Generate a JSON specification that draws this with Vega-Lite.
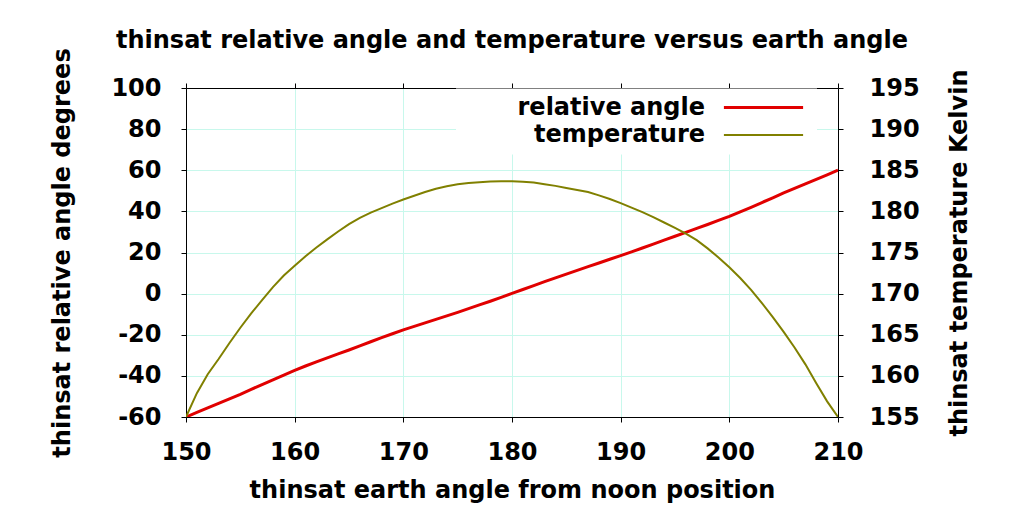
{
  "$schema": "https://vega.github.io/schema/vega-lite/v6.json",
  "width": 652,
  "height": 329,
  "autosize": {"type": "none"},
  "padding": {"left": 186, "top": 88, "right": 186, "bottom": 95},
  "background": "white",
  "config": {
    "font": "DejaVu Sans",
    "view": {"stroke": null},
    "axis": {
      "labelFont": "DejaVu Sans", "labelFontSize": 24, "labelFontWeight": "bold", "labelColor": "black",
      "titleFont": "DejaVu Sans", "titleFontSize": 24, "titleFontWeight": "bold", "titleColor": "black",
      "domainColor": "black", "domainWidth": 1, "tickColor": "black", "tickWidth": 1, "tickSize": 5,
      "gridColor": "#c8f8ec", "gridWidth": 1, "gridOpacity": 1,
      "labelFlush": false, "labelOverlap": false
    },
    "legend": {
      "orient": "none", "legendX": 270, "legendY": 0.5,
      "fillColor": "white", "padding": 7, "strokeColor": null,
      "labelFont": "DejaVu Sans", "labelFontSize": 24, "labelFontWeight": "bold", "labelColor": "black",
      "labelAlign": "right", "labelOffset": -70.5, "labelBaseline": "middle", "labelLimit": 400,
      "symbolType": "M-3.3,0L3.3,0", "symbolSize": 576, "symbolStrokeWidth": 3, "symbolOffset": 288.5,
      "rowPadding": 3.4
    }
  },
  "title": {
    "text": "thinsat relative angle and temperature versus earth angle",
    "font": "DejaVu Sans", "fontSize": 24, "fontWeight": "bold", "color": "black",
    "anchor": "middle", "offset": -5
  },
  "data": {
    "values": [
      {"earth": 150, "relative": -60.0, "temperature": 155.0},
      {"earth": 151, "relative": -57.8, "temperature": 157.9},
      {"earth": 152, "relative": -55.6, "temperature": 160.2},
      {"earth": 153, "relative": -53.4, "temperature": 162.05},
      {"earth": 154, "relative": -51.2, "temperature": 164.0},
      {"earth": 155, "relative": -49.0, "temperature": 165.85},
      {"earth": 156, "relative": -46.6, "temperature": 167.6},
      {"earth": 157, "relative": -44.2, "temperature": 169.2},
      {"earth": 158, "relative": -41.9, "temperature": 170.8},
      {"earth": 159, "relative": -39.6, "temperature": 172.2},
      {"earth": 160, "relative": -37.3, "temperature": 173.4},
      {"earth": 161, "relative": -35.2, "temperature": 174.55},
      {"earth": 162, "relative": -33.2, "temperature": 175.6},
      {"earth": 163, "relative": -31.2, "temperature": 176.6},
      {"earth": 164, "relative": -29.3, "temperature": 177.55},
      {"earth": 165, "relative": -27.4, "temperature": 178.45},
      {"earth": 166, "relative": -25.4, "temperature": 179.2},
      {"earth": 167, "relative": -23.4, "temperature": 179.85},
      {"earth": 168, "relative": -21.4, "temperature": 180.4},
      {"earth": 169, "relative": -19.5, "temperature": 180.95},
      {"earth": 170, "relative": -17.6, "temperature": 181.45},
      {"earth": 171, "relative": -15.9, "temperature": 181.9},
      {"earth": 172, "relative": -14.2, "temperature": 182.35},
      {"earth": 173, "relative": -12.5, "temperature": 182.75},
      {"earth": 174, "relative": -10.8, "temperature": 183.05},
      {"earth": 175, "relative": -9.1, "temperature": 183.3},
      {"earth": 176, "relative": -7.3, "temperature": 183.45},
      {"earth": 177, "relative": -5.5, "temperature": 183.55},
      {"earth": 178, "relative": -3.7, "temperature": 183.62},
      {"earth": 179, "relative": -1.8, "temperature": 183.65},
      {"earth": 180, "relative": 0.1, "temperature": 183.65},
      {"earth": 181, "relative": 2.0, "temperature": 183.6},
      {"earth": 182, "relative": 3.9, "temperature": 183.5},
      {"earth": 183, "relative": 5.8, "temperature": 183.3},
      {"earth": 184, "relative": 7.7, "temperature": 183.1},
      {"earth": 185, "relative": 9.5, "temperature": 182.85},
      {"earth": 186, "relative": 11.3, "temperature": 182.6},
      {"earth": 187, "relative": 13.1, "temperature": 182.35},
      {"earth": 188, "relative": 14.9, "temperature": 181.95},
      {"earth": 189, "relative": 16.7, "temperature": 181.5},
      {"earth": 190, "relative": 18.5, "temperature": 181.0},
      {"earth": 191, "relative": 20.3, "temperature": 180.45},
      {"earth": 192, "relative": 22.2, "temperature": 179.9},
      {"earth": 193, "relative": 24.1, "temperature": 179.3},
      {"earth": 194, "relative": 26.0, "temperature": 178.65},
      {"earth": 195, "relative": 27.9, "temperature": 178.0},
      {"earth": 196, "relative": 29.8, "temperature": 177.3},
      {"earth": 197, "relative": 31.7, "temperature": 176.5},
      {"earth": 198, "relative": 33.6, "temperature": 175.5},
      {"earth": 199, "relative": 35.6, "temperature": 174.4},
      {"earth": 200, "relative": 37.6, "temperature": 173.2},
      {"earth": 201, "relative": 39.8, "temperature": 171.9},
      {"earth": 202, "relative": 42.0, "temperature": 170.45},
      {"earth": 203, "relative": 44.3, "temperature": 168.85},
      {"earth": 204, "relative": 46.6, "temperature": 167.15},
      {"earth": 205, "relative": 49.0, "temperature": 165.35},
      {"earth": 206, "relative": 51.2, "temperature": 163.45},
      {"earth": 207, "relative": 53.4, "temperature": 161.4},
      {"earth": 208, "relative": 55.6, "temperature": 159.1},
      {"earth": 209, "relative": 57.8, "temperature": 156.9},
      {"earth": 210, "relative": 60.0, "temperature": 155.0}
    ]
  },
  "layer": [
    {
      "mark": {"type": "line", "strokeWidth": 3, "clip": true},
      "encoding": {
        "x": {
          "field": "earth", "type": "quantitative",
          "scale": {"domain": [150, 210], "nice": false, "zero": false},
          "axis": {
            "orient": "bottom", "values": [150, 160, 170, 180, 190, 200, 210],
            "grid": true, "labelPadding": 18,
            "title": "thinsat earth angle from noon position", "titlePadding": 14
          }
        },
        "y": {
          "field": "relative", "type": "quantitative",
          "scale": {"domain": [-60, 100], "nice": false, "zero": false},
          "axis": {
            "orient": "left", "values": [-60, -40, -20, 0, 20, 40, 60, 80, 100],
            "grid": true, "labelPadding": 20,
            "labelExpr": "replace(datum.label, '\u2212', '-')",
            "title": "thinsat relative angle degrees", "titlePadding": 36
          }
        },
        "color": {
          "datum": "relative angle",
          "scale": {"domain": ["relative angle", "temperature"], "range": ["#e10000", "#808000"]},
          "legend": {
            "title": null,
            "encode": {"symbols": {"update": {"strokeWidth": {"signal": "datum.value === 'temperature' ? 2 : 3"}}}}
          }
        }
      }
    },
    {
      "mark": {"type": "line", "strokeWidth": 2, "clip": true},
      "encoding": {
        "x": {
          "field": "earth", "type": "quantitative",
          "scale": {"domain": [150, 210], "nice": false, "zero": false},
          "axis": {
            "orient": "top", "values": [150, 160, 170, 180, 190, 200, 210],
            "grid": false, "labels": false, "title": null
          }
        },
        "y": {
          "field": "temperature", "type": "quantitative",
          "scale": {"domain": [155, 195], "nice": false, "zero": false},
          "axis": {
            "orient": "right", "values": [155, 160, 165, 170, 175, 180, 185, 190, 195],
            "grid": false, "labelPadding": 26,
            "title": "thinsat temperature Kelvin", "titleAngle": 270, "titlePadding": 52
          }
        },
        "color": {"datum": "temperature"}
      }
    }
  ],
  "resolve": {"scale": {"y": "independent"}, "axis": {"x": "independent"}}
}
